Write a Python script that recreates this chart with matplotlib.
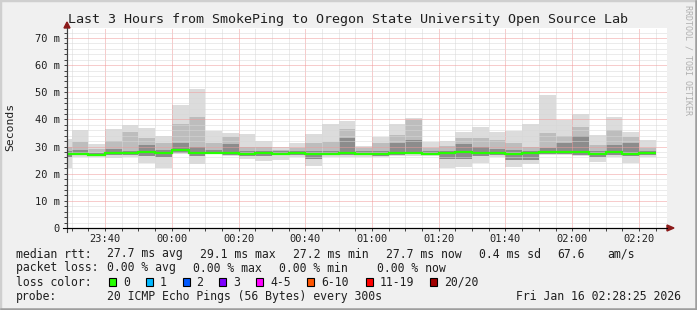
import numpy as np
import matplotlib
matplotlib.use('Agg')
import matplotlib.pyplot as plt
from matplotlib.patches import Rectangle, Polygon
from matplotlib.lines import Line2D

plt.rcParams['font.family'] = 'DejaVu Sans Mono'

# 5 minute bins, start time in minutes after midnight (23:25 ... 02:20)
bin_start = np.arange(-35, 145, 5)

# smoke bands (ms)
ping_min = [22.0, 26.3, 26.3, 25.7, 26.3, 23.8, 22.0, 27.1, 23.5, 27.1, 26.5, 25.4,
            24.8, 25.1, 26.3, 22.8, 26.3, 26.3, 26.3, 26.0, 26.5, 26.5, 26.7, 22.0,
            22.4, 24.1, 26.3, 22.6, 23.6, 26.9, 26.9, 26.5, 24.4, 26.3, 24.1, 26.3]
ping_lo = [26.0, 26.8, 26.6, 26.8, 26.8, 26.5, 26.0, 27.6, 26.5, 27.4, 27.0, 26.5,
           26.5, 26.8, 26.8, 25.5, 26.8, 27.0, 26.8, 26.6, 27.0, 27.2, 27.0, 25.5,
           25.5, 26.5, 27.0, 25.0, 25.0, 27.4, 27.4, 27.0, 26.0, 27.0, 26.5, 27.0]
median = [27.2, 27.4, 27.0, 27.8, 27.5, 28.1, 27.5, 28.7, 27.5, 27.8, 27.5, 27.3,
          27.8, 27.4, 27.8, 27.1, 27.4, 27.8, 27.4, 27.3, 27.5, 27.8, 27.4, 27.8,
          28.0, 27.5, 27.6, 27.4, 27.5, 28.1, 27.9, 28.0, 27.4, 27.9, 27.3, 27.5]
ping_dark = [28.5, 28.8, 27.8, 29.0, 28.5, 30.5, 28.8, 31.5, 30.0, 28.8, 31.0, 28.5,
             28.5, 28.2, 28.5, 28.5, 28.5, 33.0, 28.5, 28.5, 31.2, 32.4, 28.3, 28.5,
             31.0, 30.0, 29.0, 28.7, 28.5, 29.5, 31.2, 34.0, 28.5, 30.5, 31.2, 28.2]
ping_hi = [30.0, 31.8, 29.0, 32.2, 35.5, 33.0, 31.2, 38.2, 41.0, 31.5, 33.5, 30.0,
           30.0, 28.7, 29.5, 31.2, 31.8, 36.4, 29.5, 31.2, 34.3, 39.8, 29.5, 30.2,
           33.0, 33.0, 32.5, 31.5, 30.0, 35.0, 33.9, 37.3, 30.5, 36.1, 33.5, 29.5]
ping_max = [32.7, 36.1, 31.0, 36.5, 38.0, 36.8, 33.9, 45.3, 51.2, 35.9, 35.1, 34.5,
            32.0, 30.0, 31.2, 34.6, 38.3, 39.5, 30.2, 33.7, 38.3, 40.5, 31.6, 32.0,
            35.3, 37.3, 35.5, 35.9, 38.3, 49.0, 39.8, 41.9, 34.3, 41.0, 35.3, 32.4]

time_ticks = [-20, 0, 20, 40, 60, 80, 100, 120, 140]
time_labels = ['23:40', '00:00', '00:20', '00:40', '01:00', '01:20', '01:40', '02:00', '02:20']
ms_ticks = [0, 10, 20, 30, 40, 50, 60, 70]
ms_labels = ['0', '10 m', '20 m', '30 m', '40 m', '50 m', '60 m', '70 m']

loss_labels = ['0', '1', '2', '3', '4-5', '6-10', '11-19', '20/20']
loss_colors = ['#26ff00', '#00b8ff', '#0059ff', '#7e00ff', '#ff00ff', '#ff5500', '#ff0000', '#a10000']

W, H = 697, 310
fig = plt.figure(figsize=(W / 100, H / 100), dpi=100, facecolor='#f0f0f0')


def fx(x):
    return x / W


def fy(y):
    return 1 - y / H


# 3d frame like rrdtool
fig.patches.append(Rectangle((0, 0), 1, 1, transform=fig.transFigure, fill=False,
                             edgecolor='#cfcfcf', linewidth=2.5, zorder=0))
fig.add_artist(Line2D([fx(1), fx(696)], [fy(308.8), fy(308.8)], color='#9e9e9e', lw=1.8))
fig.add_artist(Line2D([fx(695.8), fx(695.8)], [fy(1), fy(309)], color='#9e9e9e', lw=1.8))

ax = fig.add_axes([fx(67), fy(228), 600 / W, 200 / H])
ax.set_facecolor('white')
ax.set_xlim(-31.42, 148.42)
ax.set_ylim(0, 73.7)

lo = np.array(ping_min)
hi = np.array(ping_max)
ax.bar(bin_start, hi - lo, bottom=lo, width=5, align='edge', color='#dcdcdc', linewidth=0, zorder=1)
ax.bar(bin_start, np.array(ping_hi) - np.array(ping_lo), bottom=ping_lo, width=5,
       align='edge', color='#bdbdbd', linewidth=0, zorder=1.1)
ax.bar(bin_start, np.array(ping_dark) - np.array(ping_lo), bottom=ping_lo, width=5,
       align='edge', color='#8c8c8c', linewidth=0, zorder=1.2)
edges = np.append(bin_start, bin_start[-1] + 5)
ax.stairs(median, edges, baseline=None, color='#26ff00', linewidth=1.6, zorder=3)

# grid
ax.set_xticks(time_ticks)
ax.set_xticklabels(time_labels)
ax.set_xticks(np.arange(-30, 150, 5), minor=True)
ax.set_yticks(ms_ticks)
ax.set_yticklabels(ms_labels)
ax.set_yticks(np.arange(0, 74, 2), minor=True)
ax.set_axisbelow(False)
ax.grid(which='minor', color='#d8d8d8', linestyle=(0, (1, 1)), linewidth=0.72)
ax.grid(which='major', color='#f09a9a', linestyle=(0, (1, 1)), linewidth=0.72)

for s in ['top', 'right']:
    ax.spines[s].set_visible(False)
ax.spines['left'].set_color('#404040')
ax.spines['bottom'].set_color('#000000')
ax.tick_params(which='both', direction='out', colors='#404040', labelcolor='#202020',
               labelsize=7.5, length=2, width=0.7)
ax.tick_params(axis='y', pad=3)
ax.tick_params(axis='x', pad=2.5)

# axis extensions and arrows
fig.add_artist(Line2D([fx(67), fx(67)], [fy(232), fy(28)], color='#404040', lw=0.8))
fig.add_artist(Line2D([fx(63), fx(667)], [fy(228), fy(228)], color='#000000', lw=0.8))
fig.add_artist(Polygon([[fx(64), fy(28)], [fx(70), fy(28)], [fx(67), fy(22)]],
                       closed=True, transform=fig.transFigure, color='#8b1a1a'))
fig.add_artist(Polygon([[fx(667), fy(225)], [fx(667), fy(231)], [fx(674), fy(228)]],
                       closed=True, transform=fig.transFigure, color='#8b1a1a'))

# texts
fig.text(fx(348), fy(19), 'Last 3 Hours from SmokePing to Oregon State University Open Source Lab',
         ha='center', va='center', fontsize=9.6, color='#202020')
fig.text(fx(10), fy(127), 'Seconds', rotation=90, ha='center', va='center', fontsize=8.2, color='#202020')
fig.text(fx(688), fy(60), 'RRDTOOL / TOBI OETIKER', rotation=270, ha='center', va='center',
         fontsize=6, color='#b0b0b0')

lfs = 8.3
tc = '#202020'
row1 = [(16, 'median rtt:'), (107, '27.7 ms avg'), (200, '29.1 ms max'), (293, '27.2 ms min'),
        (386, '27.7 ms now'), (479, '0.4 ms sd'), (557, '67.6'), (607, 'am/s')]
for x, s in row1:
    fig.text(fx(x), fy(254), s, ha='left', va='center', fontsize=lfs, color=tc)
row2 = [(16, 'packet loss:'), (107, '0.00 % avg'), (193, '0.00 % max'), (279, '0.00 % min'),
        (377, '0.00 % now')]
for x, s in row2:
    fig.text(fx(x), fy(268), s, ha='left', va='center', fontsize=lfs, color=tc)

fig.text(fx(16), fy(282), 'loss color:', ha='left', va='center', fontsize=lfs, color=tc)
box_x = [109, 145.5, 182.5, 219, 256, 307, 365.5, 430]
for bx, lab, col in zip(box_x, loss_labels, loss_colors):
    fig.add_artist(Rectangle((fx(bx), fy(286)), 7 / W, 8 / H, transform=fig.transFigure,
                             facecolor=col, edgecolor='black', linewidth=0.8))
    fig.text(fx(bx + 14), fy(282), lab, ha='left', va='center', fontsize=lfs, color=tc)

fig.text(fx(16), fy(296.5), 'probe:', ha='left', va='center', fontsize=lfs, color=tc)
fig.text(fx(107), fy(296.5), '20 ICMP Echo Pings (56 Bytes) every 300s', ha='left', va='center',
         fontsize=lfs, color=tc)
fig.text(fx(681), fy(296.5), 'Fri Jan 16 02:28:25 2026', ha='right', va='center',
         fontsize=lfs, color=tc)

fig.savefig('out.png', dpi=100, facecolor=fig.get_facecolor())
